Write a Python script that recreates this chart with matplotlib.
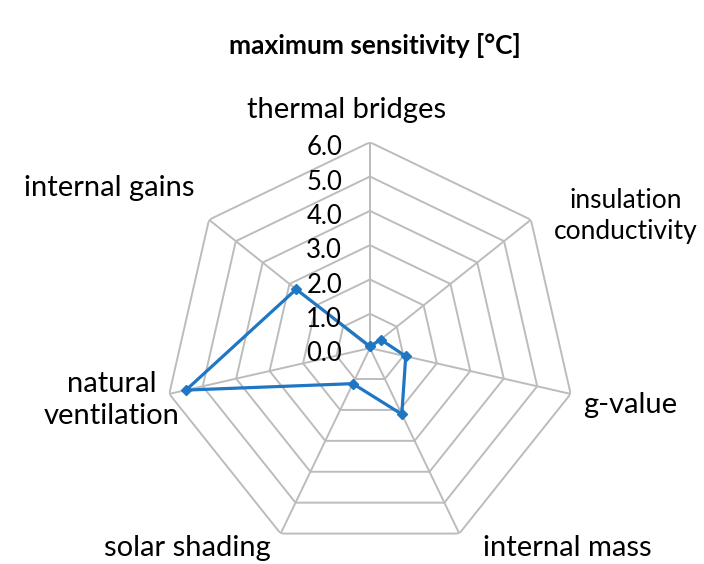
import numpy as np
import matplotlib
matplotlib.use("Agg")
import matplotlib.pyplot as plt

plt.rcParams['font.family'] = ['Lato', 'DejaVu Sans']

categories = ["thermal bridges", "insulation\nconductivity", "g-value", "internal mass",
              "solar shading", "natural\nventilation", "internal gains"]
values = [0.05, 0.4, 1.07, 2.14, 1.15, 5.5, 2.75]
ring_values = [0.0, 1.0, 2.0, 3.0, 4.0, 5.0, 6.0]
ring_labels = ["0.0", "1.0", "2.0", "3.0", "4.0", "5.0", "6.0"]
title = "maximum sensitivity [°C]"

fig = plt.figure(figsize=(7.04, 5.64), dpi=100)
ax = fig.add_axes([0.2330, 0.0178, 0.585, 0.730], projection='polar')
ax.set_theta_offset(np.pi / 2)
ax.set_theta_direction(-1)
ax.set_ylim(0, 6)
ax.axis('off')

n = len(categories)
angles = np.arange(n) * 2 * np.pi / n
closed = np.append(angles, angles[0])
grid_col = '#bcbcbc'
for rv in ring_values[1:]:
    ax.plot(closed, [rv] * (n + 1), color=grid_col, lw=1.4, zorder=1)
for a in angles:
    ax.plot([a, a], [0, ring_values[-1]], color=grid_col, lw=1.4, zorder=1)

vals = np.append(values, values[0])
ax.plot(closed, vals, color='#1f77c4', lw=2.3, marker='D', markersize=5, zorder=3)

for rv, lab in zip(ring_values, ring_labels):
    ax.annotate(lab, xy=(0, rv), xytext=(-20, -4), textcoords='offset points',
                ha='right', va='center', fontsize=18.5, color='#000000', zorder=4)

# category labels (figure pixel positions)
W, H = 704, 564
pos = [(347, 110, 'center', 21), (626, 216, 'center', 19), (583, 405, 'left', 21),
       (567, 548, 'center', 21), (187, 548, 'center', 21), (112, 400, 'center', 21),
       (109, 188, 'center', 21)]
for lab, (x, y, ha, fs) in zip(categories, pos):
    fig.text(x / W, 1 - y / H, lab, ha=ha, va='center', fontsize=fs,
             linespacing=1.3, color='#000000')

fig.text(375 / W, 1 - 45 / H, title, ha='center', va='center', fontsize=19,
         fontweight='bold')

fig.savefig('out.png', dpi=100)
